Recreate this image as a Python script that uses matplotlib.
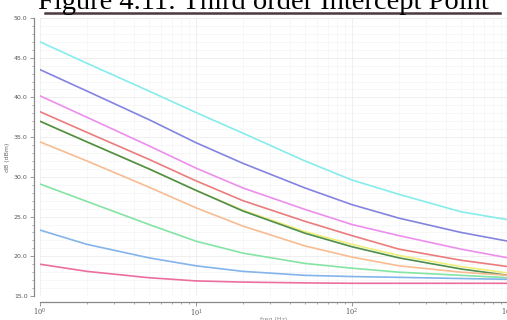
import matplotlib
matplotlib.use("Agg")
import matplotlib.pyplot as plt
from matplotlib.ticker import LogLocator, MultipleLocator, FormatStrFormatter, NullFormatter
from matplotlib.lines import Line2D

# ---- data ----
x = [1, 2, 5, 10, 20, 50, 100, 200, 500, 1000]
cyan    = [47.0, 44.3, 40.8, 38.1, 35.5, 32.0, 29.6, 27.8, 25.6, 24.6]
blue    = [43.5, 40.8, 37.2, 34.3, 31.7, 28.6, 26.5, 24.8, 23.0, 21.9]
magenta = [40.2, 37.5, 33.9, 31.1, 28.6, 25.9, 24.0, 22.6, 20.9, 19.8]
red     = [38.2, 35.6, 32.2, 29.5, 27.0, 24.4, 22.6, 20.9, 19.5, 18.7]
yellow  = [37.0, 34.4, 31.0, 28.3, 25.8, 23.1, 21.5, 20.1, 18.7, 17.9]
green   = [37.0, 34.4, 31.0, 28.3, 25.7, 22.9, 21.2, 19.8, 18.4, 17.6]
orange  = [34.4, 32.0, 28.7, 26.1, 23.8, 21.3, 19.9, 18.8, 18.0, 17.6]
lgreen  = [29.1, 26.9, 24.0, 21.9, 20.4, 19.1, 18.5, 18.0, 17.6, 17.3]
lblue   = [23.3, 21.5, 19.8, 18.8, 18.1, 17.6, 17.45, 17.35, 17.2, 17.1]
pink    = [19.0, 18.1, 17.3, 16.9, 16.75, 16.65, 16.6, 16.6, 16.6, 16.6]

series = [
    (cyan, "#86ecec"),
    (blue, "#8484e0"),
    (magenta, "#ec8eec"),
    (red, "#ec7c7c"),
    (yellow, "#eeee78"),
    (green, "#4e8e4e"),
    (orange, "#f7bc92"),
    (lgreen, "#84e4a4"),
    (lblue, "#84b4ec"),
    (pink, "#ec6e9e"),
]

title = "Figure 4.11: Third order Intercept Point"
ylabel = "dB (dBm)"
xlabel = "freq (Hz)"

fig = plt.figure(figsize=(5.07, 3.20), dpi=100)
fig.patch.set_facecolor("white")
ax = fig.add_axes([40/507, 24/320, 468/507, 278/320])

for vals, col in series:
    ax.plot(x, vals, color=col, lw=1.2, solid_capstyle="round")

ax.set_xscale("log")
ax.set_xlim(1, 1000)
ax.set_ylim(15, 50)
ax.yaxis.set_major_locator(MultipleLocator(5))
ax.yaxis.set_minor_locator(MultipleLocator(1))
ax.yaxis.set_major_formatter(FormatStrFormatter("%.1f"))
ax.xaxis.set_major_locator(LogLocator(base=10, numticks=10))
ax.xaxis.set_minor_locator(LogLocator(base=10, subs=range(2, 10), numticks=50))
ax.xaxis.set_minor_formatter(NullFormatter())

ax.grid(True, which="major", color="#ececec", lw=0.6)
ax.grid(True, which="minor", color="#f4f4f4", lw=0.5)
ax.set_axisbelow(True)

for s in ["top", "right"]:
    ax.spines[s].set_visible(False)
for s in ["left", "bottom"]:
    ax.spines[s].set_position(("outward", 4))
    ax.spines[s].set_color("#888888")
    ax.spines[s].set_linewidth(0.9)

ax.tick_params(which="both", colors="#888888", labelcolor="#555555", labelsize=4.5,
               direction="out")
ax.tick_params(which="major", length=3, width=0.6)
ax.tick_params(which="minor", length=1.5, width=0.5)
ax.tick_params(axis="y", pad=2)
ax.tick_params(axis="x", labelsize=4.8, pad=1)
for lab in ax.get_xticklabels():
    lab.set_family("DejaVu Serif")

ax.set_ylabel(ylabel, fontsize=4.5, color="#666666", labelpad=3)
ax.set_xlabel(xlabel, fontsize=4.5, color="#888888", labelpad=-1)

# Title (partly cut at the top) and the dark rule beneath it
fig.text(0.52, 1 - 9/320, title, ha="center", va="baseline",
         fontsize=20.5, family="Liberation Serif", color="black")
fig.add_artist(Line2D([45/507, 500/507], [1 - 13/320, 1 - 13/320],
                      color="#4a3a40", lw=1.8, transform=fig.transFigure))

fig.savefig("out.png", dpi=100)
